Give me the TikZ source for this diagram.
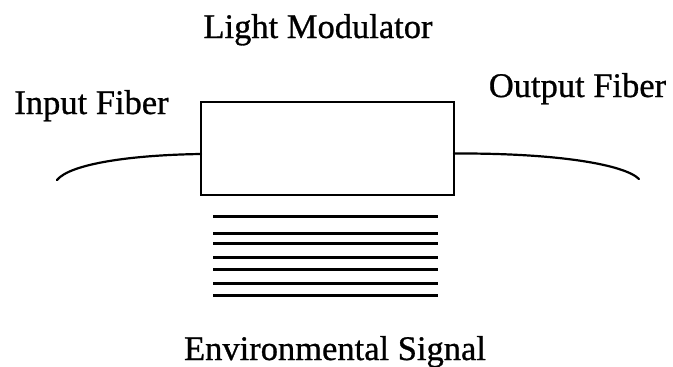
\documentclass[tikz,border=0pt]{standalone}
\usepackage{fontspec}
\setmainfont{Liberation Serif}[UprightFeatures={FakeBold=0.8}]
\usepackage{tikz}
\usetikzlibrary{positioning,calc}

\begin{document}
\begin{tikzpicture}[
    x=1pt, y=-1pt,
    lbl/.style={anchor=base, inner sep=0pt, font=\fontsize{34.5}{40}\selectfont},
    modbox/.style={rectangle, draw=black, line width=2.5pt, outer sep=0pt, minimum width=253pt, minimum height=93pt},
    fiber/.style={line width=2.2pt, draw=black, line cap=round},
    signal/.style={line width=3pt, draw=black}
]
\useasboundingbox (0,0) rectangle (673,367);

% Modulator
\node[modbox] (modulator) at (327.5,148.5) {};

% Labels
\node[lbl] (title) at (318,38) {Light Modulator};
\node[lbl] (inlbl) at (91.5,114) {Input Fiber};
\node[lbl] (outlbl) at (577.5,97) {Output Fiber};
\node[lbl] (envlbl) at (335,360) {Environmental Signal};

% Fibers
\coordinate (inend) at (57,180);
\coordinate (outend) at (639,179);
\draw[fiber] ([yshift=-5.5pt]modulator.west) .. controls (130,155) and (70,164) .. (inend);
\draw[fiber] ([yshift=-5pt]modulator.east) .. controls (560,153) and (625,165) .. (outend);

% Environmental signal lines
\foreach \y in {216,233,243,257,269,283,295}
    \draw[signal] (213,\y) -- (438,\y);

\end{tikzpicture}
\end{document}
